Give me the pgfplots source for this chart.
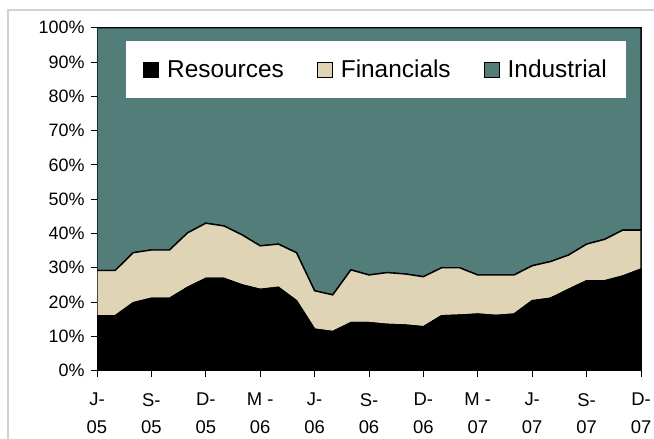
\documentclass[border=0pt]{standalone}
\usepackage{pgfplots}
\pgfplotsset{compat=1.18}
\usepackage{pgfplotstable}
\usepackage{fontspec}
\setmainfont{Liberation Sans}

\definecolor{indteal}{RGB}{83,125,121}
\definecolor{finbeige}{RGB}{224,212,183}

% share of market cap, % (x = months from Jun-05)
\pgfplotstableread{
x  res   fin   ind
0  16.0  13.2  70.8
1  16.0  13.2  70.8
2  19.8  14.6  65.6
3  21.1  14.1  64.8
4  21.1  14.1  64.8
5  24.3  15.9  59.8
6  26.9  16.1  57.0
7  26.9  15.3  57.8
8  25.0  14.6  60.4
9  23.7  12.7  63.6
10 24.3  12.6  63.1
11 20.4  14.0  65.6
12 12.1  11.2  76.7
13 11.4  10.7  77.9
14 14.0  15.4  70.6
15 14.0  13.9  72.1
16 13.5  15.1  71.4
17 13.3  14.9  71.8
18 12.8  14.6  72.6
19 16.0  14.0  70.0
20 16.2  13.8  70.0
21 16.5  11.4  72.1
22 16.1  11.8  72.1
23 16.5  11.4  72.1
24 20.4  10.2  69.4
25 21.1  10.7  68.2
26 23.7  10.0  66.3
27 26.2  10.7  63.1
28 26.2  12.1  61.7
29 27.6  13.4  59.0
30 29.6  11.4  59.0
}\shares

\begin{document}
\begin{tikzpicture}
\useasboundingbox (-97bp,-68.3bp) rectangle (557bp,370.7bp);
\draw[black!18, line width=1.2bp] (-89bp,-70bp) -- (-89bp,360.7bp) -- (560bp,360.7bp);
\begin{axis}[
    scale only axis,
    width=544bp, height=343bp,
    xmin=0, xmax=30, ymin=0, ymax=100,
    stack plots=y,
    axis line style={line width=0.9bp},
    tick style={black, line width=0.9bp},
    tick align=outside,
    major tick length=6bp,
    xtick={0,3,...,30},
    xticklabels={{J-\\05},{S-\\05},{D-\\05},{M -\\06},{J-\\06},{S-\\06},{D-\\06},{M -\\07},{J-\\07},{S-\\07},{D-\\07}},
    xticklabel style={align=center, font=\fontsize{18.5}{27.5}\selectfont, yshift=-13bp},
    ytick={0,10,...,100},
    yticklabels={0\%,10\%,20\%,30\%,40\%,50\%,60\%,70\%,80\%,90\%,100\%},
    yticklabel style={font=\fontsize{18}{20}\selectfont, xshift=-3bp},
    xtick pos=bottom, ytick pos=left,
    legend columns=3,
    legend style={at={(0.0533,0.961)}, anchor=north west, draw=none, fill=white,
        font=\fontsize{24.5}{27}\selectfont, inner xsep=17bp, inner ysep=17bp,
        /tikz/every odd column/.append style={column sep=6bp},
        /tikz/every even column/.append style={column sep=31bp}},
    legend image code/.code={\draw[#1, draw=black, line width=1bp] (0bp,-7.5bp) rectangle (15bp,7.5bp);},
    every axis plot/.append style={draw=black, line width=1.4bp},
]
\addplot[fill=black] table[x=x, y=res] {\shares} \closedcycle;
\addlegendentry{Resources}
\addplot[fill=finbeige] table[x=x, y=fin] {\shares} \closedcycle;
\addlegendentry{Financials}
\addplot[fill=indteal] table[x=x, y=ind] {\shares} \closedcycle;
\addlegendentry{Industrial}
\end{axis}
\end{tikzpicture}
\end{document}
